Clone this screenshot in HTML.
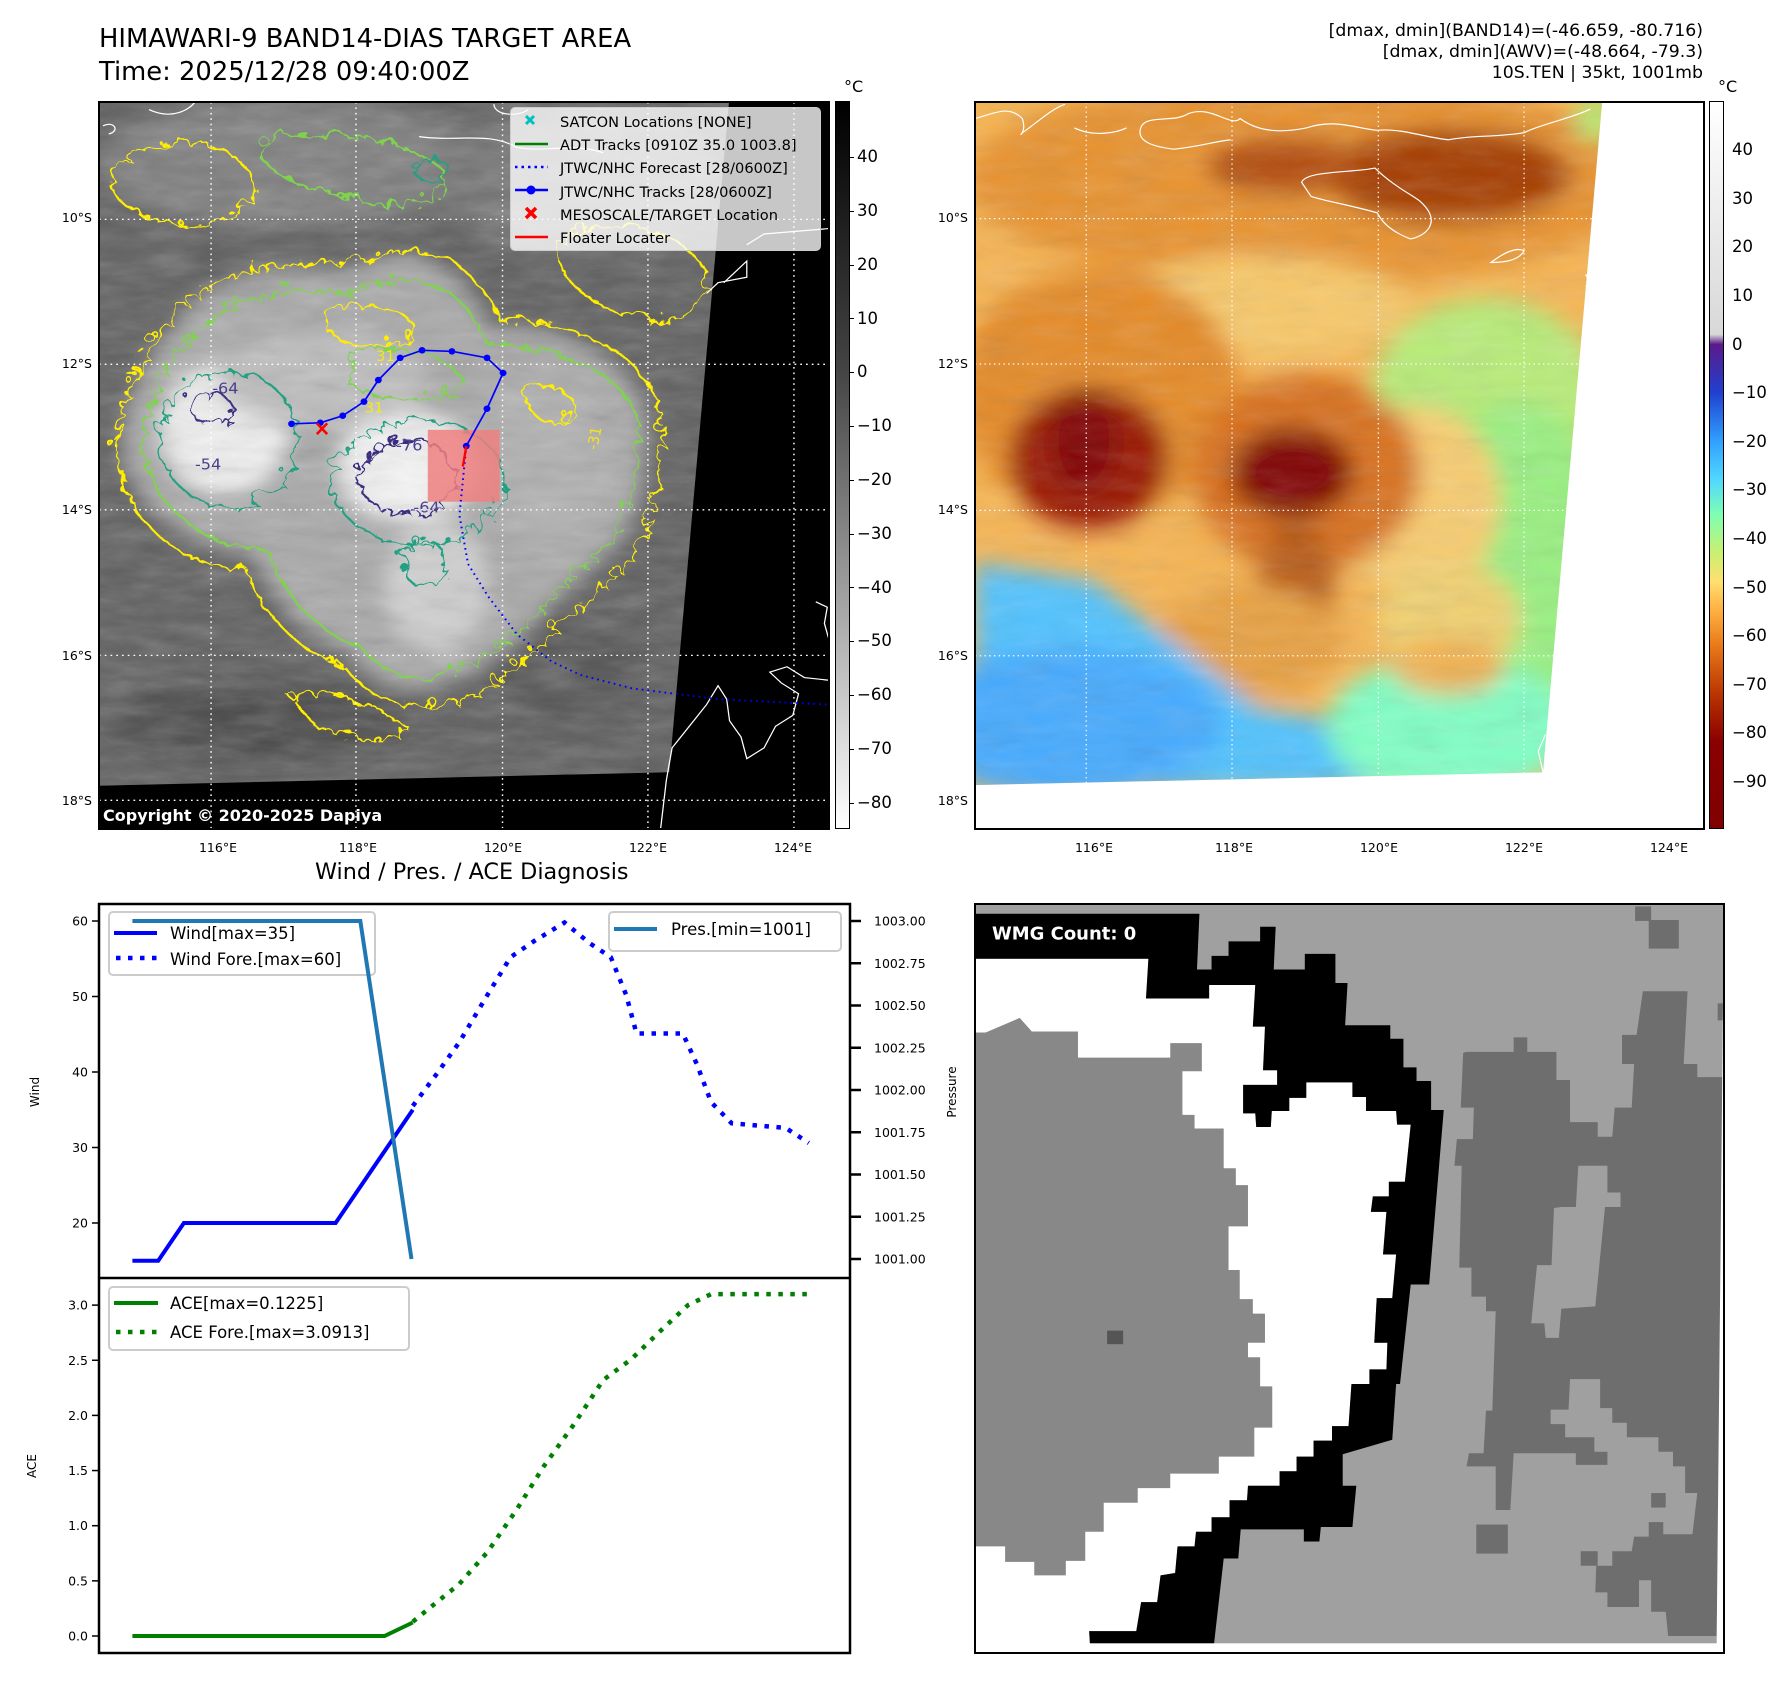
<!DOCTYPE html>
<html><head><meta charset="utf-8">
<style>
html,body{margin:0;padding:0;background:#fff;}
body{width:1792px;height:1690px;position:relative;overflow:hidden;font-family:"DejaVu Sans","Liberation Sans",sans-serif;color:#000;}
.abs{position:absolute;}
.t{position:absolute;white-space:nowrap;}
.frame{position:absolute;border:2.5px solid #000;box-sizing:border-box;}
</style></head><body>

<div class="t" style="left:99px;top:23px;font-size:25.8px;line-height:33px;">HIMAWARI-9 BAND14-DIAS TARGET AREA<br>Time: 2025/12/28 09:40:00Z</div>
<div class="t" style="right:89px;top:21px;font-size:17.3px;line-height:21px;text-align:right;">[dmax, dmin](BAND14)=(-46.659, -80.716)<br>[dmax, dmin](AWV)=(-48.664, -79.3)<br>10S.TEN | 35kt, 1001mb</div>

<!-- LEFT MAP -->
<svg class="abs" style="left:99px;top:102px" width="730" height="727" viewBox="173 186 1270 1344" preserveAspectRatio="none">
<defs>
<filter id="bl" x="-20%" y="-20%" width="140%" height="140%"><feGaussianBlur stdDeviation="18"/></filter>
<filter id="nz"><feTurbulence type="fractalNoise" baseFrequency="0.012 0.04" numOctaves="4" seed="4"/><feColorMatrix type="saturate" values="0"/></filter>
<filter id="wig" x="-10%" y="-10%" width="120%" height="120%"><feTurbulence type="turbulence" baseFrequency="0.03" numOctaves="2" seed="7" result="t"/><feDisplacementMap in="SourceGraphic" in2="t" scale="38"/></filter>
<clipPath id="lc"><rect x="173" y="186" width="1270" height="1344"/></clipPath>
</defs>
<g clip-path="url(#lc)">
<rect x="173" y="186" width="1270" height="1344" fill="#5e5e5e"/>
<g filter="url(#bl)">
<ellipse cx="500" cy="300" rx="330" ry="120" fill="#7e7e7e"/>
<ellipse cx="1000" cy="330" rx="250" ry="130" fill="#727272"/>
<path d="M290,620 C350,500 500,480 600,500 C700,440 800,470 850,600 C950,600 1100,640 1120,760 C1140,900 1100,1000 1020,1060 C950,1120 900,1200 800,1250 C720,1300 640,1260 600,1200 C540,1180 460,1100 440,1020 C350,1020 260,960 230,880 C190,800 230,700 290,620Z" fill="#a8a8a8"/>
<ellipse cx="390" cy="790" rx="110" ry="120" fill="#f0f0f0"/>
<ellipse cx="710" cy="860" rx="120" ry="100" fill="#f4f4f4"/>
<ellipse cx="760" cy="1080" rx="90" ry="120" fill="#cfcfcf"/>
<ellipse cx="560" cy="700" rx="180" ry="90" fill="#bdbdbd"/>
<ellipse cx="950" cy="850" rx="120" ry="150" fill="#b0b0b0"/>
<ellipse cx="450" cy="1330" rx="250" ry="70" fill="#4a4a4a"/>
<ellipse cx="1000" cy="1250" rx="150" ry="90" fill="#555"/>
</g>
<rect x="173" y="186" width="1270" height="1344" filter="url(#nz)" opacity="0.3"/>
<g filter="url(#wig)" fill="none" stroke-width="4">
<path stroke="#ffee00" d="M275,600 C340,480 500,460 600,480 C700,420 810,450 860,580 C960,580 1120,620 1140,760 C1160,910 1110,1010 1030,1080 C960,1140 910,1220 810,1275 C720,1320 630,1280 590,1220 C520,1200 440,1120 420,1040 C330,1040 240,980 210,890 C170,800 210,690 275,600Z"/>
<path stroke="#ffee00" d="M190,300 C260,230 380,240 420,300 C460,360 380,420 300,400 C230,390 170,360 190,300Z"/>
<path stroke="#ffee00" d="M980,420 C1060,380 1200,420 1220,500 C1230,560 1150,600 1080,570 C1000,540 930,480 980,420Z"/>
<path stroke="#ffee00" d="M500,1280 C560,1250 650,1300 700,1330 C680,1360 600,1360 540,1330Z"/>
<path stroke="#ffee00" d="M560,560 C620,540 700,560 720,600 C680,640 600,630 560,600Z"/>
<path stroke="#ffee00" d="M900,700 C960,690 1000,720 990,760 C950,780 900,760 900,700Z"/>
<path stroke="#7fd34e" d="M310,630 C370,530 510,510 600,530 C700,480 790,500 835,620 C930,630 1080,660 1100,770 C1110,900 1070,990 1000,1040 C940,1100 890,1180 790,1225 C720,1260 650,1230 615,1180 C550,1160 480,1090 460,1010 C370,1000 285,950 255,870 C220,790 255,700 310,630Z"/>
<path stroke="#7fd34e" d="M450,250 C550,220 700,240 760,300 C780,360 700,380 620,360 C530,340 420,300 450,250Z"/>
<path stroke="#7fd34e" d="M600,640 C680,620 780,640 800,700 C760,740 660,730 600,700Z"/>
<ellipse stroke="#20a080" cx="390" cy="800" rx="120" ry="125"/>
<ellipse stroke="#20a080" cx="720" cy="880" rx="150" ry="115"/>
<ellipse stroke="#20a080" cx="730" cy="1030" rx="35" ry="45"/>
<ellipse stroke="#20a080" cx="740" cy="300" rx="30" ry="20"/>
<ellipse stroke="#3a2f80" cx="360" cy="745" rx="35" ry="30"/>
<ellipse stroke="#3a2f80" cx="700" cy="870" rx="85" ry="70"/>
</g>
<g fill="#ffee00" font-size="26" opacity="0.9">
<text x="655" y="665">31</text><text x="635" y="760">31</text><text x="1040" y="830" transform="rotate(-80 1040 830)">-31</text>
</g>
<g fill="#4a4090" font-size="28"><text x="690" y="830">-76</text><text x="720" y="945">-64</text><text x="340" y="865">-54</text><text x="370" y="725">-64</text></g>
<polygon points="1269,186 1443,186 1443,1530 173,1530 173,1450 1165,1425" fill="#000"/>
<g fill="none" stroke="#fff" stroke-width="2.2">
<path d="M1150,1530 L1160,1440 L1170,1380 L1200,1340 L1230,1300 L1250,1265 L1265,1290 L1270,1330 L1290,1360 L1300,1400 L1330,1380 L1350,1340 L1380,1320 L1390,1280 L1360,1260 L1340,1240 L1370,1230 L1400,1250 L1443,1255"/>
<path d="M1420,1110 L1440,1120 L1435,1150 L1443,1180"/>
<path d="M1260,520 L1300,480 L1300,510 L1250,520 L1230,540"/>
<path d="M1300,450 L1330,430 L1443,420"/>
<path d="M180,230 C200,220 210,240 190,245"/>
<path d="M730,250 C800,260 850,240 900,270 C950,280 1000,260 1050,280"/>
<path d="M860,190 C860,210 900,215 920,200"/>
<path d="M260,200 C300,220 330,200 340,186"/>
</g>
<g stroke="#fff" stroke-width="2.5" stroke-dasharray="3 7" fill="none">
<line x1="368" y1="186" x2="368" y2="1530"/><line x1="620" y1="186" x2="620" y2="1530"/><line x1="875" y1="186" x2="875" y2="1530"/><line x1="1128" y1="186" x2="1128" y2="1530"/><line x1="1382" y1="186" x2="1382" y2="1530"/>
<line x1="173" y1="403" x2="1443" y2="403"/><line x1="173" y1="671" x2="1443" y2="671"/><line x1="173" y1="940" x2="1443" y2="940"/><line x1="173" y1="1209" x2="1443" y2="1209"/><line x1="173" y1="1477" x2="1443" y2="1477"/>
</g>
<rect x="745" y="792" width="125" height="133" fill="#f08080" opacity="0.85"/>
<polyline points="812,822 800,950 815,1040 850,1100 900,1170 960,1220 1010,1245 1100,1270 1250,1290 1443,1300" fill="none" stroke="#0000ff" stroke-width="3.5" stroke-dasharray="3 7"/>
<polyline points="508,781 558,779 597,766 634,740 659,700 697,659 735,645 787,647 848,659 876,687 848,753 812,822" fill="none" stroke="#0000ff" stroke-width="3"/>
<g fill="#0000ff"><circle cx="508" cy="781" r="6"/><circle cx="558" cy="779" r="6"/><circle cx="597" cy="766" r="6"/><circle cx="634" cy="740" r="6"/><circle cx="659" cy="700" r="6"/><circle cx="697" cy="659" r="6"/><circle cx="735" cy="645" r="6"/><circle cx="787" cy="647" r="6"/><circle cx="848" cy="659" r="6"/><circle cx="876" cy="687" r="6"/><circle cx="848" cy="753" r="6"/><circle cx="812" cy="822" r="6"/></g>
<line x1="812" y1="822" x2="806" y2="860" stroke="#ff0000" stroke-width="4"/>
<g stroke="#ff0000" stroke-width="4.5"><line x1="552" y1="780" x2="570" y2="800"/><line x1="570" y1="780" x2="552" y2="800"/></g>
</g>
</svg>
<div class="frame" style="left:98px;top:101px;width:732px;height:729px;"></div>
<div class="t" style="left:103px;top:806px;font-size:16px;font-weight:bold;color:#fff;">Copyright © 2020-2025 Dapiya</div>

<!-- legend -->
<div class="abs" style="left:510px;top:107px;width:311px;height:144px;background:rgba(255,255,255,0.78);border:1.5px solid #ccc;border-radius:5px;box-sizing:border-box;"></div>
<svg class="abs" style="left:510px;top:107px" width="311" height="144">
<g stroke="#00bfbf" stroke-width="3"><line x1="16" y1="9" x2="24" y2="17"/><line x1="24" y1="9" x2="16" y2="17"/></g>
<line x1="5" y1="37" x2="38" y2="37" stroke="#008000" stroke-width="2.5"/>
<line x1="5" y1="60" x2="38" y2="60" stroke="#0000ff" stroke-width="2.5" stroke-dasharray="2.5 4"/>
<line x1="5" y1="83" x2="38" y2="83" stroke="#0000ff" stroke-width="2.5"/><circle cx="21" cy="83" r="4.5" fill="#0000ff"/>
<g stroke="#ff0000" stroke-width="3.5"><line x1="16" y1="101" x2="26" y2="111"/><line x1="26" y1="101" x2="16" y2="111"/></g>
<line x1="5" y1="130" x2="38" y2="130" stroke="#ff0000" stroke-width="2.5"/>
</svg>
<div class="t" style="left:560px;top:111px;font-size:14.6px;line-height:23.2px;">SATCON Locations [NONE]<br>ADT Tracks [0910Z 35.0 1003.8]<br>JTWC/NHC Forecast [28/0600Z]<br>JTWC/NHC Tracks [28/0600Z]<br>MESOSCALE/TARGET Location<br>Floater Locater</div>

<!-- left colorbar -->
<div class="abs" style="left:835px;top:101px;width:15px;height:728px;border:1px solid #000;box-sizing:border-box;background:linear-gradient(#000 0%,#444 37%,#fff 100%);"></div>
<div class="t" style="left:844px;top:77px;font-size:16px;">°C</div>
<div id="lcb"></div>

<!-- RIGHT MAP -->
<svg class="abs" style="left:975px;top:102px" width="728" height="727" viewBox="0 5 1538 1540" preserveAspectRatio="none">
<defs><filter id="bl2" x="-20%" y="-20%" width="140%" height="140%"><feGaussianBlur stdDeviation="24"/></filter>
<filter id="nz2"><feTurbulence type="fractalNoise" baseFrequency="0.01 0.035" numOctaves="4" seed="9"/><feColorMatrix type="saturate" values="0"/></filter></defs>
<rect x="0" y="5" width="1538" height="1540" fill="#f6b452"/>
<g filter="url(#bl2)">
<ellipse cx="700" cy="170" rx="720" ry="220" fill="#e8922e"/>
<ellipse cx="1000" cy="160" rx="260" ry="100" fill="#a63c06"/>
<ellipse cx="650" cy="140" rx="160" ry="60" fill="#b44c08"/>
<ellipse cx="1310" cy="40" rx="45" ry="50" fill="#b8e870"/>
<ellipse cx="600" cy="440" rx="320" ry="110" fill="#f8c868"/>
<ellipse cx="260" cy="620" rx="300" ry="260" fill="#e58a26"/>
<ellipse cx="1080" cy="620" rx="240" ry="200" fill="#b8ec78"/>
<ellipse cx="1150" cy="1000" rx="200" ry="360" fill="#98f080"/>
<ellipse cx="930" cy="850" rx="180" ry="200" fill="#f8cc70"/>
<ellipse cx="1000" cy="1100" rx="150" ry="120" fill="#f0d070"/>
<ellipse cx="240" cy="760" rx="170" ry="150" fill="#9a1804"/>
<ellipse cx="230" cy="720" rx="70" ry="110" fill="#800000"/>
<ellipse cx="700" cy="790" rx="240" ry="210" fill="#d8701a"/>
<ellipse cx="670" cy="790" rx="130" ry="95" fill="#800000"/>
<ellipse cx="680" cy="1020" rx="80" ry="130" fill="#b85a14"/>
<ellipse cx="580" cy="1150" rx="200" ry="120" fill="#e8a040"/>
<polygon points="0,980 250,1020 420,1150 600,1290 850,1330 860,1460 0,1460" fill="#50c2ff"/>
<ellipse cx="200" cy="1320" rx="320" ry="160" fill="#44aaff"/>
<ellipse cx="1000" cy="1330" rx="260" ry="150" fill="#80ffc4"/>
<ellipse cx="1000" cy="1200" rx="120" ry="60" fill="#f0b050"/>
</g>
<rect x="0" y="5" width="1538" height="1540" filter="url(#nz2)" opacity="0.2"/>
<polygon points="1325,5 1538,5 1538,1545 0,1545 0,1452 1200,1425" fill="#fff"/>
<g fill="none" stroke="#fff" stroke-width="2.5">
<path d="M0,40 C40,30 70,10 100,40 C110,70 90,80 100,70 C130,50 160,20 190,10"/>
<path d="M350,60 C360,30 420,50 450,30 C500,10 540,60 560,40 C600,70 650,70 700,60 C760,40 800,60 850,65 C900,60 950,80 1000,85 C1050,75 1100,80 1160,70 C1200,50 1260,40 1300,20"/>
<path d="M350,60 C340,90 380,100 420,105 C470,100 500,90 540,85"/>
<path d="M690,175 C700,150 800,155 845,145 C880,180 920,200 940,215 C990,260 950,290 920,295 C880,280 860,260 850,240 C800,225 740,215 710,205 Z"/>
<path d="M1090,345 C1110,330 1140,310 1160,320 C1150,340 1120,345 1090,345Z"/>
<path d="M1290,370 L1300,390 L1290,395"/>
<path d="M1200,1425 L1190,1380 L1205,1345"/>
<path d="M210,60 C250,80 300,70 320,60"/>
</g>
<g stroke="#fff" stroke-width="2.5" stroke-dasharray="3 7" fill="none">
<line x1="235" y1="5" x2="235" y2="1545"/><line x1="543" y1="5" x2="543" y2="1545"/><line x1="852" y1="5" x2="852" y2="1545"/><line x1="1160" y1="5" x2="1160" y2="1545"/>
<line x1="0" y1="252" x2="1538" y2="252"/><line x1="0" y1="560" x2="1538" y2="560"/><line x1="0" y1="870" x2="1538" y2="870"/><line x1="0" y1="1178" x2="1538" y2="1178"/>
</g>
</svg>
<div class="frame" style="left:974px;top:101px;width:731px;height:729px;"></div>
<div class="abs" style="left:1709px;top:101px;width:15px;height:728px;border:1px solid #000;box-sizing:border-box;background:linear-gradient(#fff 0%,#d8d8d8 32%,#5a1a8a 33.4%,#2040d0 40%,#30a0ff 46.7%,#50d8ff 52%,#80ffb0 57%,#c8f070 62%,#ffe070 66%,#ffb040 70%,#e87818 75%,#b83000 82%,#8b0000 88%,#800000 100%);"></div>
<div class="t" style="left:1718px;top:77px;font-size:16px;">°C</div>
<div id="rcb"></div>
<div id="maplabels"></div>

<!-- WMG -->
<svg class="abs" style="left:975px;top:904px" width="749" height="749" viewBox="3 5 1542 1545" preserveAspectRatio="none">
<rect x="0" y="0" width="1550" height="1550" fill="#a0a0a0"/>
<polygon points="5,118 360,118 355,200 485,200 485,172 580,172 575,258 600,258 596,348 625,348 625,378 555,378 555,437 580,437 582,465 612,465 614,432 650,432 650,405 685,405 685,373 780,373 780,403 808,403 808,432 870,432 872,460 900,460 888,578 855,578 855,608 822,608 818,640 850,640 843,728 870,728 862,818 830,818 825,910 852,910 850,965 815,965 815,995 778,995 772,1082 738,1082 738,1112 700,1112 700,1145 665,1145 665,1175 630,1175 630,1205 565,1205 563,1235 527,1235 527,1270 490,1270 490,1300 458,1300 455,1330 420,1330 415,1385 385,1390 378,1445 345,1445 335,1505 238,1505 240,1550 0,1550 0,118" fill="#fff"/>
<polygon points="0,270 25,270 95,240 120,268 215,268 215,322 405,322 405,292 470,292 470,350 430,350 430,440 455,440 455,468 515,468 515,550 540,550 540,585 565,585 565,670 525,670 525,760 548,760 548,820 575,820 575,850 600,850 600,910 565,910 565,940 590,940 590,1000 615,1000 615,1085 578,1085 578,1145 505,1145 505,1180 405,1180 405,1210 338,1210 338,1240 268,1240 268,1300 230,1300 230,1360 190,1360 190,1390 125,1390 125,1362 65,1362 65,1330 0,1330" fill="#888"/>
<rect x="275" y="885" width="33" height="28" fill="#555"/>
<polygon points="0,25 465,25 460,140 490,140 490,112 525,112 525,82 590,82 590,52 622,52 618,140 682,140 682,108 745,108 745,168 770,168 765,255 858,255 858,283 885,283 885,342 912,342 912,370 942,370 942,430 968,430 938,790 900,790 878,995 870,995 862,1110 760,1140 760,1205 788,1205 780,1290 715,1290 712,1320 680,1320 680,1295 550,1295 545,1355 515,1355 495,1532 240,1535 238,1505 335,1505 345,1445 378,1445 385,1390 415,1385 420,1330 455,1330 458,1300 490,1300 490,1270 527,1270 527,1235 563,1235 565,1205 630,1205 630,1175 665,1175 665,1145 700,1145 700,1112 738,1112 738,1082 772,1082 778,995 815,995 815,965 850,965 852,910 825,910 830,818 862,818 870,728 843,728 850,640 818,640 822,608 855,608 855,578 888,578 900,460 872,460 870,432 808,432 808,403 780,403 780,373 685,373 685,405 650,405 650,432 614,432 612,465 582,465 580,437 555,437 555,378 625,378 625,348 596,348 600,258 575,258 580,172 485,172 485,200 355,200 360,118 0,118" fill="#000"/>
<polygon points="1015,310 1112,310 1112,280 1140,280 1140,310 1200,310 1200,368 1228,368 1228,455 1285,455 1285,485 1315,485 1320,425 1355,425 1360,335 1335,335 1335,275 1365,275 1378,185 1470,185 1462,335 1490,335 1490,362 1545,362 1530,1515 1430,1515 1425,1465 1395,1465 1395,1400 1370,1400 1370,1455 1305,1455 1305,1425 1280,1425 1282,1370 1315,1370 1315,1340 1355,1340 1360,1310 1390,1310 1390,1280 1420,1280 1420,1305 1480,1305 1490,1220 1465,1220 1465,1165 1440,1165 1440,1135 1410,1135 1410,1105 1345,1105 1345,1075 1315,1075 1315,1045 1290,1045 1290,985 1228,985 1225,1048 1188,1048 1188,1078 1218,1078 1218,1105 1278,1105 1278,1135 1305,1135 1305,1162 1240,1162 1240,1138 1112,1138 1105,1255 1075,1255 1075,1165 1015,1165 1020,1138 1050,1138 1055,1050 1068,1050 1075,845 1055,845 1055,815 1025,815 1025,755 1000,755 1005,545 990,545 995,490 1028,490 1030,425 1003,425 1008,312" fill="#6e6e6e"/>
<polygon points="1195,632 1210,630 1240,630 1245,545 1305,545 1305,600 1332,600 1332,630 1300,630 1280,835 1210,840 1205,900 1178,900 1175,870 1148,870 1160,750 1190,750" fill="#a0a0a0"/>
<g fill="#6e6e6e"><rect x="1362" y="10" width="33" height="30"/><rect x="1390" y="38" width="62" height="59"/><rect x="1035" y="1285" width="65" height="60"/><rect x="1250" y="1340" width="35" height="30"/><rect x="1395" y="1220" width="30" height="30"/><rect x="1532" y="210" width="13" height="35"/></g>
<polygon points="1545,0 1550,0 1550,1550 1530,1550 1530,1515" fill="#fff"/>
<rect x="0" y="1530" width="1550" height="20" fill="#fff"/>
<polygon points="0,1532 240,1535 240,1550 0,1550" fill="#fff"/>
<rect x="22" y="33" width="285" height="58" rx="8" fill="#000"/>
<text x="38" y="78" font-family="DejaVu Sans, sans-serif" font-size="37" font-weight="bold" fill="#fff">WMG Count: 0</text>
</svg>
<div class="frame" style="left:974px;top:903px;width:751px;height:751px;"></div>

<!-- CHART -->
<div class="t" style="left:315px;top:859px;font-size:22.3px;">Wind / Pres. / ACE Diagnosis</div>
<svg id="chart" class="abs" style="left:0;top:0" width="1000" height="1690"></svg>

<script>
// chart data
const windObsT = [0, 1, 2, 7.9, 10.9];
const windObsV = [15, 15, 20, 20, 35];
const windForeT = [10.9, 11.8, 12.7, 13.8, 14.7, 15.6, 16.8, 17.8, 18.6, 19.2, 19.6, 21.4, 21.95, 22.5, 23.3, 25.4, 26.3];
const windForeV = [35.5, 39.6, 43.9, 50.2, 55.2, 57.3, 59.8, 57, 55.2, 50.2, 45.1, 45.1, 41, 36, 33.2, 32.6, 30.6];
const presT = [0, 8.86, 10.85];
const presV = [1003, 1003, 1001];
const aceObsT = [0, 9.8, 10.9];
const aceObsV = [0, 0, 0.1225];
const aceForeT = [10.9, 11.8, 12.7, 13.8, 14.95, 16.0, 17.2, 18.3, 19.4, 20.5, 21.6, 22.5, 26.5];
const aceForeV = [0.13, 0.30, 0.47, 0.76, 1.15, 1.54, 1.93, 2.32, 2.51, 2.76, 3.0, 3.1, 3.1];
const windTicks = [20, 30, 40, 50, 60];
const presTicks = [1001.00, 1001.25, 1001.50, 1001.75, 1002.00, 1002.25, 1002.50, 1002.75, 1003.00];
const aceTicks = [0.0, 0.5, 1.0, 1.5, 2.0, 2.5, 3.0];
const irCbTicks = [40, 30, 20, 10, 0, -10, -20, -30, -40, -50, -60, -70, -80];
const awvCbTicks = [40, 30, 20, 10, 0, -10, -20, -30, -40, -50, -60, -70, -80, -90];
const latTicks = ["10°S", "12°S", "14°S", "16°S", "18°S"];
const lonTicks = ["116°E", "118°E", "120°E", "122°E", "124°E"];

const NS = "http://www.w3.org/2000/svg";
const svg = document.getElementById('chart');
const X0 = 99, X1 = 850, T0 = -1.3, T1 = 27.9;
const xs = t => X0 + (t - T0) / (T1 - T0) * (X1 - X0);
const yWind = v => 921 + (60 - v) * 7.55;
const yPres = v => 921 + (1003 - v) * 169;
const yAce = v => 1636 - v * 110.3;

function el(tag, attrs) { const e = document.createElementNS(NS, tag); for (const k in attrs) e.setAttribute(k, attrs[k]); svg.appendChild(e); return e; }
function pts(T, V, f) { return T.map((t, i) => xs(t).toFixed(1) + "," + f(V[i]).toFixed(1)).join(" "); }
function txt(x, y, s, size, anchor, name) {
  const e = el('text', {x: x, y: y, 'font-size': size, 'text-anchor': anchor || 'start', 'font-family': 'DejaVu Sans, sans-serif'});
  e.textContent = s;
  
  
  return e;
}
const cw = el('clipPath', {id: 'cw'}); const r1 = document.createElementNS(NS, 'rect'); r1.setAttribute('x', X0); r1.setAttribute('y', 904); r1.setAttribute('width', X1 - X0); r1.setAttribute('height', 374); cw.appendChild(r1);
const ca = el('clipPath', {id: 'ca'}); const r2 = document.createElementNS(NS, 'rect'); r2.setAttribute('x', X0); r2.setAttribute('y', 1278); r2.setAttribute('width', X1 - X0); r2.setAttribute('height', 375); ca.appendChild(r2);

// ticks
windTicks.forEach(v => { const y = yWind(v); el('line', {x1: 92, x2: 99, y1: y, y2: y, stroke: '#000', 'stroke-width': 1.5}); txt(88, y + 4.5, String(v), 12.5, 'end', 'wind-tick-label'); });
presTicks.forEach(v => { const y = yPres(v); el('line', {x1: 850, x2: 861, y1: y, y2: y, stroke: '#000', 'stroke-width': 2.5}); txt(874, y + 4.5, v.toFixed(2), 12.5, 'start', 'pressure-tick-label'); });
aceTicks.forEach(v => { const y = yAce(v); el('line', {x1: 92, x2: 99, y1: y, y2: y, stroke: '#000', 'stroke-width': 1.5}); txt(88, y + 4.5, v.toFixed(1), 12.5, 'end', 'ace-tick-label'); });
let a1 = txt(0, 0, 'Wind', 12, 'middle', 'wind-axis-title'); a1.setAttribute('transform', 'translate(39,1092) rotate(-90)');
let a2 = txt(0, 0, 'ACE', 12, 'middle', 'ace-axis-title'); a2.setAttribute('transform', 'translate(36,1466) rotate(-90)');
let a3 = txt(0, 0, 'Pressure', 12, 'middle', 'pressure-axis-title'); a3.setAttribute('transform', 'translate(956,1092) rotate(-90)');

// wind
let p = el('polyline', {points: pts(windObsT, windObsV, yWind), fill: 'none', stroke: '#0000ff', 'stroke-width': 4, 'clip-path': 'url(#cw)'});
 
p = el('polyline', {points: pts(windForeT, windForeV, yWind), fill: 'none', stroke: '#0000ff', 'stroke-width': 4.5, 'stroke-dasharray': '4.5 7.5', 'clip-path': 'url(#cw)'});
 
// wind legend
el('rect', {x: 109, y: 912, width: 266, height: 63, rx: 4, fill: 'rgba(255,255,255,0.8)', stroke: '#ccc', 'stroke-width': 2});
el('line', {x1: 114, x2: 157, y1: 933, y2: 933, stroke: '#0000ff', 'stroke-width': 4});
el('line', {x1: 116, x2: 157, y1: 958, y2: 958, stroke: '#0000ff', 'stroke-width': 4.5, 'stroke-dasharray': '4.5 7.5'});
txt(170, 939, 'Wind[max=35]', 16.5, 'start', 'wind-legend-entry');
txt(170, 965, 'Wind Fore.[max=60]', 16.5, 'start', 'wind-forecast-legend-entry');
// pressure
p = el('polyline', {points: pts(presT, presV, yPres), fill: 'none', stroke: '#1f77b4', 'stroke-width': 4, 'clip-path': 'url(#cw)'});
 
el('rect', {x: 609, y: 912, width: 232, height: 39, rx: 4, fill: 'rgba(255,255,255,0.8)', stroke: '#ccc', 'stroke-width': 2});
el('line', {x1: 614, x2: 657, y1: 929, y2: 929, stroke: '#1f77b4', 'stroke-width': 4});
txt(671, 935, 'Pres.[min=1001]', 16.5, 'start', 'pressure-legend-entry');

// ace
p = el('polyline', {points: pts(aceObsT, aceObsV, yAce), fill: 'none', stroke: '#008000', 'stroke-width': 4, 'clip-path': 'url(#ca)'});
 
p = el('polyline', {points: pts(aceForeT, aceForeV, yAce), fill: 'none', stroke: '#008000', 'stroke-width': 4.5, 'stroke-dasharray': '4.5 7.5', 'clip-path': 'url(#ca)'});
 
el('rect', {x: 109, y: 1287, width: 300, height: 63, rx: 4, fill: 'rgba(255,255,255,0.8)', stroke: '#ccc', 'stroke-width': 2});
el('line', {x1: 114, x2: 158, y1: 1303, y2: 1303, stroke: '#008000', 'stroke-width': 4});
el('line', {x1: 116, x2: 158, y1: 1332, y2: 1332, stroke: '#008000', 'stroke-width': 4.5, 'stroke-dasharray': '4.5 7.5'});
txt(170, 1309, 'ACE[max=0.1225]', 16.5, 'start', 'ace-legend-entry');
txt(170, 1338, 'ACE Fore.[max=3.0913]', 16.5, 'start', 'ace-forecast-legend-entry');
// frames
el('rect', {x: 99, y: 904, width: 751, height: 749, fill: 'none', stroke: '#000', 'stroke-width': 2.5});
el('line', {x1: 99, x2: 850, y1: 1278, y2: 1278, stroke: '#000', 'stroke-width': 2.5});

// colorbar + map labels
function addLabel(parent, x, y, s, size, align, name) {
  const d = document.createElement('div');
  d.className = 't'; d.textContent = s;
  d.style.fontSize = size + 'px'; d.style.top = (y - size * 0.6) + 'px';
  if (align === 'right') { d.style.right = (1792 - x) + 'px'; } else if (align === 'center') { d.style.left = (x - 40) + 'px'; d.style.width = '80px'; d.style.textAlign = 'center'; } else { d.style.left = x + 'px'; }
  
  
  parent.appendChild(d);
}
const lcb = document.getElementById('lcb');
irCbTicks.forEach(v => {
  const y = 157 + (40 - v) * 5.38;
  addLabel(lcb, 857, y, (v < 0 ? '\u2212' + (-v) : String(v)), 16.5, 'left', 'ir-colorbar-tick');
  const tk = document.createElement('div'); tk.className = 'abs'; tk.style.cssText = 'left:850px;width:4px;height:1px;background:#000;top:' + y + 'px';
    lcb.appendChild(tk);
});
const rcb = document.getElementById('rcb');
awvCbTicks.forEach(v => {
  const y = 150 + (40 - v) * 4.86;
  addLabel(rcb, 1732, y, (v < 0 ? '\u2212' + (-v) : String(v)), 16.5, 'left', 'awv-colorbar-tick');
});
const ml = document.getElementById('maplabels');
const latY = [217, 363, 509, 655, 800];
const lonX = [218, 358, 503, 648, 793];
latTicks.forEach((s, i) => { addLabel(ml, 92, latY[i], s, 12.5, 'right', 'ir-lat-label'); addLabel(ml, 968, latY[i], s, 12.5, 'right', 'awv-lat-label'); });
lonTicks.forEach((s, i) => { addLabel(ml, lonX[i], 847, s, 12.5, 'center', 'ir-lon-label'); addLabel(ml, lonX[i] + 876, 847, s, 12.5, 'center', 'awv-lon-label'); });
</script>
</body></html>
